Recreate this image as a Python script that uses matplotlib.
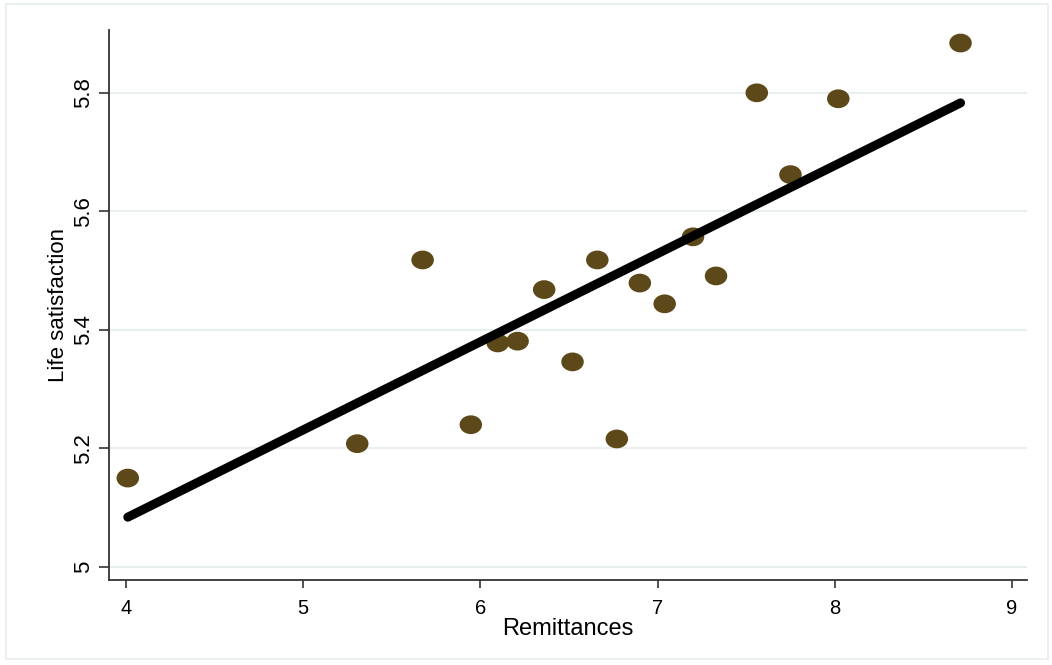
import numpy as np
import matplotlib
matplotlib.use("Agg")
import matplotlib.pyplot as plt
from matplotlib.markers import MarkerStyle
from matplotlib.transforms import Affine2D
from matplotlib.patches import Rectangle

remittances = [4.01, 5.305, 5.674, 5.946, 6.098, 6.21, 6.36, 6.52, 6.66, 6.77,
               6.90, 7.04, 7.20, 7.33, 7.56, 7.75, 8.02, 8.71]
life_satisfaction = [5.150, 5.208, 5.518, 5.240, 5.378, 5.381, 5.468, 5.346, 5.518, 5.216,
                     5.479, 5.444, 5.557, 5.491, 5.800, 5.662, 5.790, 5.884]
fit_x = [4.01, 8.71]
fit_y = [5.084, 5.783]
x_ticks = [4, 5, 6, 7, 8, 9]
y_ticks = [5.0, 5.2, 5.4, 5.6, 5.8]
y_tick_labels = ["5", "5.2", "5.4", "5.6", "5.8"]

plt.rcParams['font.family'] = ['Liberation Sans', 'DejaVu Sans']

fig = plt.figure(figsize=(10.52, 6.65), dpi=100)
fig.patches.append(Rectangle((6/1052, 6/665), 1 - 10/1052, 1 - 10/665,
                             transform=fig.transFigure, fill=False,
                             edgecolor='#e6eced', linewidth=1.2))
ax = fig.add_axes([109/1052, 85/665, (1027-109)/1052, (580-30)/665])

for yt in y_ticks:
    ax.axhline(yt, color='#e9eff1', linewidth=1.6, zorder=0)

ell = MarkerStyle('o', transform=Affine2D().scale(1.2, 1.0))
ax.scatter(remittances, life_satisfaction, marker=ell, s=13.5**2,
           color='#5c4818', edgecolors='none', zorder=2)
ax.plot(fit_x, fit_y, color='black', linewidth=6.5,
        solid_capstyle='round', zorder=3)

ax.set_xlim(3.904, 9.085)
ax.set_ylim(4.978, 5.906)
ax.set_xticks(x_ticks)
ax.set_yticks(y_ticks)
ax.set_yticklabels(y_tick_labels, rotation=90, va='center')
ax.tick_params(axis='x', direction='out', length=6, width=1.2, labelsize=14.5,
               color='#333333', pad=8)
ax.tick_params(axis='y', direction='out', length=7.5, width=1.2, labelsize=16,
               color='#333333', pad=3)
for s in ['top', 'right']:
    ax.spines[s].set_visible(False)
for s in ['left', 'bottom']:
    ax.spines[s].set_color('#333333')
    ax.spines[s].set_linewidth(1.3)
ax.set_xlabel('Remittances', fontsize=17, labelpad=0)
ax.set_ylabel('Life satisfaction', fontsize=16, labelpad=3)

fig.savefig('out.png', dpi=100)
